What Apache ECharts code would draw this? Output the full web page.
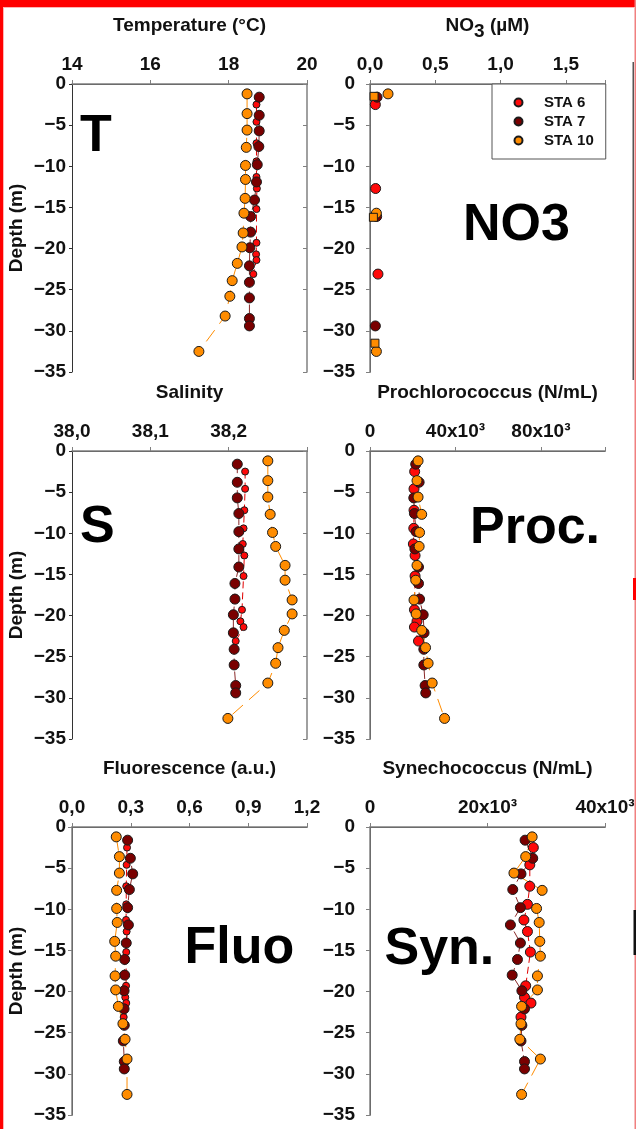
<!DOCTYPE html>
<html><head><meta charset="utf-8">
<script src="https://cdn.jsdelivr.net/npm/echarts@6/dist/echarts.min.js"></script>
<style>html,body{margin:0;padding:0;background:#fff}#c{width:636px;height:1129px}</style>
</head><body><div id="c"></div>
<script>
// ---- depths (m) per station ----
const depth6  = [-2.5, -4.6, -7.2, -9.4, -11.3, -12.7, -15.2, -19.3, -20.7, -21.4, -23.1];
const depth7  = [-1.6, -3.8, -5.7, -7.6, -9.8, -11.9, -14.1, -16.1, -18.0, -19.9, -22.1, -24.1, -26.0, -28.5, -29.4];
const depth10 = [-1.2, -3.6, -5.6, -7.7, -9.9, -11.6, -13.9, -15.7, -18.1, -19.8, -21.8, -23.9, -25.8, -28.2, -32.5];

// ---- Temperature (°C) ----
const temp6  = [18.71, 18.71, 18.71, 18.71, 18.71, 18.72, 18.71, 18.71, 18.70, 18.71, 18.63];
const temp7  = [18.78, 18.78, 18.78, 18.77, 18.73, 18.71, 18.66, 18.56, 18.56, 18.54, 18.53, 18.53, 18.53, 18.53, 18.53];
const temp10 = [18.47, 18.47, 18.47, 18.45, 18.43, 18.43, 18.42, 18.39, 18.37, 18.34, 18.22, 18.09, 18.03, 17.91, 17.24];

// ---- Salinity ----
const sal6  = [38.221, 38.221, 38.220, 38.219, 38.218, 38.220, 38.219, 38.217, 38.215, 38.219, 38.209];
const sal7  = [38.211, 38.211, 38.211, 38.213, 38.213, 38.213, 38.213, 38.208, 38.208, 38.206, 38.206, 38.207, 38.207, 38.209, 38.209];
const sal10 = [38.250, 38.250, 38.250, 38.253, 38.256, 38.260, 38.272, 38.272, 38.281, 38.281, 38.271, 38.263, 38.260, 38.250, 38.199];

// ---- Prochlorococcus (N/mL) ----
const proc6  = [20900, 20600, 20600, 20500, 20300, 21100, 21100, 20800, 22000, 20800, 22700];
const proc7  = [21400, 23000, 20500, 20800, 21600, 21000, 22700, 22700, 23200, 24900, 25300, 25200, 25200, 25800, 26100];
const proc10 = [22500, 22000, 22500, 24200, 23200, 23000, 22000, 21400, 20600, 21600, 24200, 26000, 27200, 29100, 34900];

// ---- Fluorescence (a.u.) ----
const fluo6  = [0.281, 0.279, 0.277, 0.277, 0.276, 0.279, 0.277, 0.276, 0.272, 0.277, 0.264];
const fluo7  = [0.284, 0.298, 0.310, 0.293, 0.284, 0.288, 0.277, 0.269, 0.269, 0.266, 0.266, 0.267, 0.262, 0.267, 0.267];
const fluo10 = [0.226, 0.242, 0.242, 0.228, 0.228, 0.231, 0.218, 0.223, 0.220, 0.223, 0.237, 0.260, 0.271, 0.281, 0.281];

// ---- Synechococcus (N/mL) ----
const syn6  = [27800, 27200, 27200, 26800, 26200, 26800, 27300, 26500, 26300, 27400, 25700];
const syn7  = [26400, 27700, 25700, 24300, 25600, 23900, 25600, 25100, 24200, 25850, 26300, 25850, 25700, 26300, 26300];
const syn10 = [27600, 26500, 24500, 29300, 28350, 28800, 28900, 29000, 28500, 28500, 25800, 25700, 25500, 29000, 25800];

// ---- NO3 (µM), sparse samples ----
const no3Depth6  = [-2.5, -12.7, -23.1];
const no3Val6    = [0.041, 0.043, 0.061];
const no3Depth7  = [-1.6, -16.1, -29.4];
const no3Val7    = [0.054, 0.051, 0.041];
const no3Depth10 = [-1.2, -15.7, -32.5];
const no3Val10   = [0.138, 0.049, 0.049];
const no3DepthSq = [-1.5, -16.2, -31.5];
const no3ValSq   = [0.031, 0.026, 0.038];

const stations = ['STA 6', 'STA 7', 'STA 10'];
const depthTicks = {min: -35, max: 0, interval: 5};

const FONT = '"Liberation Sans", Arial, Helvetica, sans-serif';
const C6 = '#ff0a0a', C7 = '#7a0000', C10 = '#ff8c00';
const L6 = '#e00000', L7 = '#8a2a2a', L10 = '#ff8c00';

const comma = d => v => v.toFixed(d).replace('.', ',');
const kfmt = v => v === 0 ? '0' : (v / 1000) + 'x10\u00B3';
const depthFmt = v => v < 0 ? '\u2212' + Math.abs(v) : String(v);

const panels = [
  {left: 72,  top: 84,  min: 14, max: 20, interval: 2, fmt: v => String(v), name: 'Temperature (°C)', showMax: true, depthTitle: true, yMargin: 6},
  {left: 370, top: 84,  min: 0, max: 1.8, interval: 0.5, fmt: comma(1), name: '{a|NO}{s|3}{a| (µM)}', showMax: false, depthTitle: false, yMargin: 15, rich: true},
  {left: 72,  top: 451, min: 38.0, max: 38.3, interval: 0.1, fmt: comma(1), name: 'Salinity', showMax: false, depthTitle: true, yMargin: 6},
  {left: 370, top: 451, min: 0, max: 110000, interval: 40000, fmt: kfmt, name: 'Prochlorococcus (N/mL)', showMax: false, depthTitle: false, yMargin: 15},
  {left: 72,  top: 827, min: 0, max: 1.2, interval: 0.3, fmt: comma(1), name: 'Fluorescence (a.u.)', showMax: true, depthTitle: true, yMargin: 6},
  {left: 370, top: 827, min: 0, max: 40000, interval: 20000, fmt: kfmt, name: 'Synechococcus (N/mL)', showMax: true, depthTitle: false, yMargin: 15}
];

const FS = 19;
const grids = [], xAxes = [], yAxes = [];
const lblStyle = {fontFamily: FONT, fontWeight: 'bold', fontSize: FS, color: '#111'};
panels.forEach((p, i) => {
  grids.push({left: p.left, top: p.top, width: 235, height: 288, outerBoundsMode: 'none', containLabel: false});
  const nameStyle = {fontFamily: FONT, fontWeight: 'bold', fontSize: FS, color: '#111'};
  if (p.rich) {
    nameStyle.rich = {
      a: {fontFamily: FONT, fontWeight: 'bold', fontSize: FS, color: '#111'},
      s: {fontFamily: FONT, fontWeight: 'bold', fontSize: FS, color: '#111', padding: [12, 0, 0, 0]}
    };
  }
  xAxes.push({
    gridIndex: i, type: 'value', position: 'top', min: p.min, max: p.max, interval: p.interval,
    name: p.name, nameLocation: 'middle', nameGap: p.rich ? 43 : 49, nameTextStyle: nameStyle,
    axisLine: {show: true, lineStyle: {color: '#333', width: 1}},
    axisTick: {show: true, inside: false, length: 4, lineStyle: {color: '#333'}},
    axisLabel: {show: true, margin: 10, formatter: p.fmt, showMaxLabel: p.showMax, showMinLabel: true, ...lblStyle},
    splitLine: {show: false}
  });
  xAxes.push({
    gridIndex: i, type: 'value', position: 'bottom', min: p.min, max: p.max, interval: p.interval,
    axisLine: {show: true, lineStyle: {color: '#808080', width: 1.5}},
    axisTick: {show: true, inside: true, length: 4, lineStyle: {color: '#808080'}},
    axisLabel: {show: false}, splitLine: {show: false}
  });
  yAxes.push({
    gridIndex: i, type: 'value', position: 'left', ...depthTicks,
    name: p.depthTitle ? 'Depth (m)' : '', nameLocation: 'middle', nameGap: 46, nameRotate: 90,
    nameTextStyle: {fontFamily: FONT, fontWeight: 'bold', fontSize: FS, color: '#111'},
    axisLine: {show: true, lineStyle: {color: '#333', width: 1}},
    axisTick: {show: true, inside: false, length: 3, lineStyle: {color: '#333'}},
    axisLabel: {show: true, margin: p.yMargin, formatter: depthFmt, ...lblStyle},
    splitLine: {show: false}
  });
  yAxes.push({
    gridIndex: i, type: 'value', position: 'right', ...depthTicks,
    axisLine: {show: true, lineStyle: {color: '#808080', width: 1.5}},
    axisTick: {show: true, inside: true, length: 4, lineStyle: {color: '#808080'}},
    axisLabel: {show: false}, splitLine: {show: false}
  });
});

function pairs(xs, ys) { return xs.map((v, k) => [v, ys[k]]); }
function profile(name, color, lineColor, size, dash, xs, ys, i) {
  return {
    type: 'line', name: name, xAxisIndex: 2 * i, yAxisIndex: 2 * i,
    data: pairs(xs, ys), symbol: 'circle', symbolSize: size, showSymbol: true,
    itemStyle: {color: color, borderColor: '#1a1a1a', borderWidth: 1},
    lineStyle: {color: lineColor, width: 1, type: dash},
    emphasis: {disabled: true}, animation: false
  };
}
function dots(name, color, symbol, size, xs, ys, i) {
  return {
    type: 'scatter', name: name, xAxisIndex: 2 * i, yAxisIndex: 2 * i,
    data: pairs(xs, ys), symbol: symbol, symbolSize: size,
    itemStyle: {color: color, borderColor: '#1a1a1a', borderWidth: 1, opacity: 1},
    emphasis: {disabled: true}, animation: false
  };
}

const D6 = [7, 4], D7 = [9, 4], D10 = [14, 8];
const series = [];
const sets = [
  [0, temp6, temp7, temp10, 7],
  [2, sal6, sal7, sal10, 7],
  [3, proc6, proc7, proc10, 10],
  [4, fluo6, fluo7, fluo10, 7],
  [5, syn6, syn7, syn10, 10]
];
sets.forEach(([i, a6, a7, a10, s6]) => {
  series.push(profile(stations[0], C6, L6, s6, D6, a6, depth6, i));
  series.push(profile(stations[1], C7, L7, 10, D7, a7, depth7, i));
  series.push(profile(stations[2], C10, L10, 10, D10, a10, depth10, i));
});
series.push(dots(stations[0], C6, 'circle', 10, no3Val6, no3Depth6, 1));
series.push(dots(stations[1], C7, 'circle', 10, no3Val7, no3Depth7, 1));
series.push(dots(stations[2], C10, 'circle', 10, no3Val10, no3Depth10, 1));
series.push(dots('STA 10 (square)', C10, 'rect', 8, no3ValSq, no3DepthSq, 1));

const bigFont = 'bold 52px ' + FONT;
function big(text, x, y) {
  return {type: 'text', x: x, y: y, z: 50,
    style: {text: text, font: bigFont, fill: '#000', textAlign: 'left', textVerticalAlign: 'middle', align: 'left', verticalAlign: 'middle'}};
}

const option = {
  backgroundColor: '#ffffff',
  animation: false,
  grid: grids, xAxis: xAxes, yAxis: yAxes, series: series,
  legend: {
    data: stations, orient: 'vertical', left: 492, top: 84,
    itemWidth: 41, itemHeight: 8, itemGap: 4, padding: [11, 12, 11, 21.5],
    icon: 'circle', borderColor: '#555', borderWidth: 1, backgroundColor: '#fff',
    selectedMode: false,
    textStyle: {fontFamily: FONT, fontWeight: 'bold', fontSize: 15, color: '#111'}
  },
  graphic: [
    big('T', 80, 137), big('NO3', 463, 226), big('S', 80, 528),
    big('Proc.', 470, 529), big('Fluo', 184.5, 949), big('Syn.', 384.5, 950),
    {type: 'rect', z: 100, shape: {x: 0, y: 0, width: 636, height: 7}, style: {fill: '#ff0000'}},
    {type: 'rect', z: 100, shape: {x: 0, y: 0, width: 3, height: 1129}, style: {fill: '#ff0000'}},
    {type: 'rect', z: 100, shape: {x: 3, y: 7, width: 1, height: 1122}, style: {fill: '#ffb4b4'}},
    {type: 'rect', z: 100, shape: {x: 3, y: 7, width: 631, height: 1}, style: {fill: '#ffb4b4'}},
    {type: 'rect', z: 100, shape: {x: 634.5, y: 0, width: 1.5, height: 1129}, style: {fill: '#f08080'}},
    {type: 'rect', z: 100, shape: {x: 632.5, y: 62, width: 1.5, height: 318}, style: {fill: '#555'}},
    {type: 'rect', z: 100, shape: {x: 633, y: 578, width: 3, height: 22}, style: {fill: '#ff0000'}},
    {type: 'rect', z: 100, shape: {x: 633.5, y: 910, width: 2.5, height: 45}, style: {fill: '#111'}}
  ]
};

const chart = echarts.init(document.getElementById('c'), null, {renderer: 'canvas', width: 636, height: 1129});
chart.setOption(option);
</script>
</body></html>
